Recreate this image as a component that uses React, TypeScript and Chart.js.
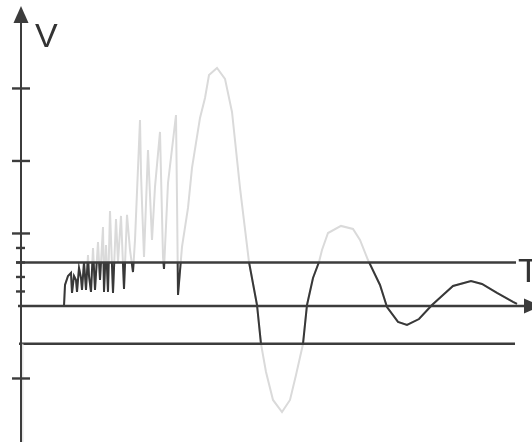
import { useEffect, useRef } from "react";
import { Chart, registerables } from "chart.js";

Chart.register(...registerables);

// time (ms after axis origin) and voltage (units: one minor tick = 1)
const signalT = [
  0, 43, 44, 47, 50, 51, 53, 55, 56, 58, 60, 61, 63, 65, 67, 68, 70, 72, 74, 76, 77, 79, 82, 83, 85, 87, 89, 92,
  95, 97, 100, 103, 106, 109, 112, 114, 119, 120, 121, 123, 127, 131, 134, 139, 142, 143, 147, 155, 156, 156, 157,
  161, 167, 171, 179, 184, 188, 196, 204, 211, 219, 228, 236, 240, 245, 252, 261, 269, 275, 282, 286, 292, 298,
  301, 307, 320, 332, 339, 347, 359, 366, 377, 386, 398, 411, 422, 432, 450, 461, 476, 492, 496,
];
const signalV = [
  0, 0, 1.45, 2.07, 2.28, 0.9, 2.07, 1.79, 0.97, 2.62, 1.93, 1.1, 3.03, 1.1, 3.52, 2.07, 0.97, 4.0, 1.1, 3.31, 4.41,
  1.79, 5.45, 0.97, 4.21, 0.97, 6.55, 0.9, 6.0, 3.03, 6.21, 1.17, 6.28, 3.86, 2.34, 4.55, 12.83, 9.17, 7.1, 3.38,
  10.76, 4.55, 8.21, 12.0, 3.38, 2.55, 8.48, 13.17, 7.31, 7.45, 0.76, 4.07, 6.76, 9.52, 12.97, 14.34, 15.93, 16.41,
  15.66, 13.38, 8.14, 3.03, 0.07, -2.62, -4.55, -6.48, -7.31, -6.48, -4.76, -2.62, 0.07, 1.93, 3.03, 3.86, 5.03,
  5.52, 5.31, 4.55, 3.17, 1.45, -0.07, -1.1, -1.31, -0.9, 0.07, 0.76, 1.38, 1.72, 1.52, 0.9, 0.28, 0.14,
];

const upperLevel = 3;
const lowerLevel = -2.6;
const upperSpan = [-5, 495];
const lowerSpan = [-2, 494];
const majorTicks = [15, 10, 5, -5];
const minorTicks = [4, 3, 2, 1];
const xRange = [-21, 511];
const yRange = [-9.38, 21.1];
const axisNames = ["V", "T"];

const DARK = "#383838";
const AXIS = "#3c3c3c";
const LIGHT = "#dadada";

const signalData = signalT.map((t, i) => ({ x: t, y: signalV[i] }));

const decor = {
  id: "decor",
  beforeDatasetDraw(chart: any, args: any) {
    if (args.index === 1) {
      const ys = chart.scales.y;
      const top = ys.getPixelForValue(upperLevel);
      const bot = ys.getPixelForValue(lowerLevel);
      const ctx = chart.ctx;
      ctx.save();
      ctx.beginPath();
      ctx.rect(0, top, chart.width, bot - top);
      ctx.clip();
    }
  },
  afterDatasetDraw(chart: any, args: any) {
    if (args.index === 1) chart.ctx.restore();
  },
  afterDatasetsDraw(chart: any) {
    const ctx = chart.ctx;
    const xs = chart.scales.x;
    const ys = chart.scales.y;
    const x0 = Math.round(xs.getPixelForValue(0));
    const y0 = ys.getPixelForValue(0);
    ctx.save();
    ctx.strokeStyle = AXIS;
    ctx.fillStyle = AXIS;

    // faint trace next to vertical axis below lower level
    ctx.strokeStyle = "#e2e2e2";
    ctx.lineWidth = 1.2;
    ctx.beginPath();
    ctx.moveTo(x0 + 1.8, ys.getPixelForValue(lowerLevel));
    ctx.lineTo(x0 + 1.8, chart.height);
    ctx.stroke();

    ctx.strokeStyle = AXIS;
    // V axis
    ctx.lineWidth = 2;
    ctx.beginPath();
    ctx.moveTo(x0, chart.height);
    ctx.lineTo(x0, 20);
    ctx.stroke();
    ctx.beginPath();
    ctx.moveTo(x0, 6);
    ctx.lineTo(x0 - 7.5, 23);
    ctx.lineTo(x0 + 7.5, 23);
    ctx.closePath();
    ctx.fill();

    // T axis
    ctx.lineWidth = 2.4;
    ctx.beginPath();
    ctx.moveTo(x0 - 3, y0);
    ctx.lineTo(527, y0);
    ctx.stroke();
    ctx.beginPath();
    ctx.moveTo(541, y0);
    ctx.lineTo(524, y0 - 7.5);
    ctx.lineTo(524, y0 + 7.5);
    ctx.closePath();
    ctx.fill();

    // ticks
    ctx.lineWidth = 2.4;
    majorTicks.forEach((v) => {
      const y = ys.getPixelForValue(v);
      ctx.beginPath();
      ctx.moveTo(x0 - 9, y);
      ctx.lineTo(x0 + 9, y);
      ctx.stroke();
    });
    minorTicks.forEach((v) => {
      const y = ys.getPixelForValue(v);
      ctx.beginPath();
      ctx.moveTo(x0 - 5, y);
      ctx.lineTo(x0 + 4, y);
      ctx.stroke();
    });

    // labels
    ctx.fillStyle = "#333333";
    ctx.font = "34px 'Liberation Sans', Arial, sans-serif";
    ctx.textBaseline = "alphabetic";
    ctx.textAlign = "left";
    ctx.fillText(axisNames[0], 35, 47);
    ctx.fillText(axisNames[1], 518, 282);
    ctx.restore();
  },
};

export default function App() {
  const ref = useRef<HTMLCanvasElement>(null);
  useEffect(() => {
    if (!ref.current) return;
    const chart = new Chart(ref.current, {
      type: "line",
      data: {
        datasets: [
          {
            data: signalData,
            borderColor: LIGHT,
            borderWidth: 2,
            pointRadius: 0,
            tension: 0,
            order: 4,
          },
          {
            data: signalData,
            borderColor: DARK,
            borderWidth: 2,
            pointRadius: 0,
            tension: 0,
            order: 3,
          },
          {
            data: upperSpan.map((x) => ({ x, y: upperLevel })),
            borderColor: AXIS,
            borderWidth: 2.4,
            pointRadius: 0,
            order: 2,
          },
          {
            data: lowerSpan.map((x) => ({ x, y: lowerLevel })),
            borderColor: AXIS,
            borderWidth: 2.4,
            pointRadius: 0,
            order: 1,
          },
        ],
      },
      options: {
        responsive: false,
        animation: false,
        events: [],
        layout: { padding: 0 },
        plugins: { legend: { display: false }, tooltip: { enabled: false }, title: { display: false } },
        scales: {
          x: { type: "linear", min: xRange[0], max: xRange[1], display: false },
          y: { type: "linear", min: yRange[0], max: yRange[1], display: false },
        },
      },
      plugins: [decor],
    });
    return () => chart.destroy();
  }, []);
  return (
    <div style={{ position: "fixed", left: 0, top: 0, width: 532, height: 442, background: "#fff" }}>
      <canvas ref={ref} width={532} height={442} style={{ display: "block", width: 532, height: 442 }} />
    </div>
  );
}
